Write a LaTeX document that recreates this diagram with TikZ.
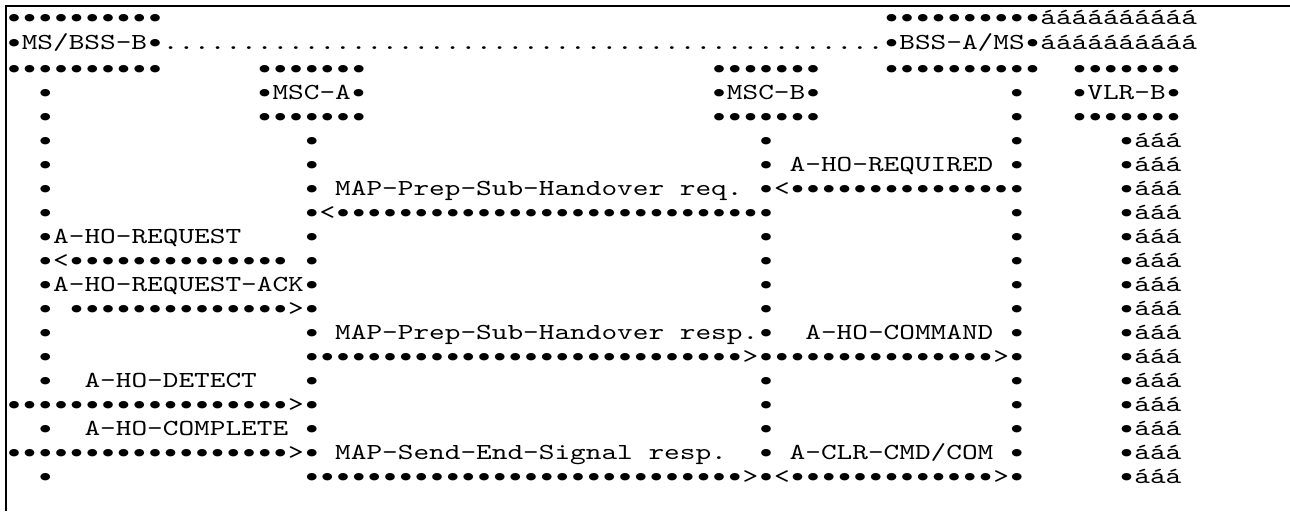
\documentclass[tikz,border=0pt]{standalone}
\usepackage{fontspec}
\newfontfamily\asciifont{lmmono10-regular.otf}[FakeStretch=1.302]

% one bullet, a bit larger, kept in one character cell
\newcommand{\bul}{\makebox[7.835pt]{\fontsize{13.5}{12}\selectfont •}}
% a run of n bullets
\newcommand{\dotrun}[1]{\foreach \k in {1,...,#1}{\bul}}

\tikzset{
  txt/.style={anchor=base west, inner sep=0pt, outer sep=0pt,
    font=\asciifont\fontsize{11.46}{12}\selectfont},
}

\begin{document}
\begin{tikzpicture}[x=0.5pt,y=-0.5pt]
\useasboundingbox (0,0) rectangle (1290,511);
\draw[line width=1.1pt] (6,511) -- (6,6) -- (1290,6);

% one unit = one character cell
\begin{scope}[x=7.835pt,y=-12pt,xshift=3.08pt,yshift=-13.85pt]

% the boxes on top
\node[txt] (msbssbtop) at (0,-0.15) {\dotrun{10}};
\node[txt] (bssamstop) at (56,-0.15) {\dotrun{10}áááááááááá};
\node[txt] (msbssb) at (0,0.9) {\bul MS/BSS-B\bul};
\node[txt] (radio) at (10,0.9) {..............................................};
\node[txt] (bssams) at (56,0.9) {\bul BSS-A/MS\bul áááááááááá};

\node[txt] (msbssbbot) at (0,2) {\dotrun{10}};
\node[txt] (mscatop) at (16,2) {\dotrun{7}};
\node[txt] (mscbtop) at (45,2) {\dotrun{7}};
\node[txt] (bssamsbot) at (56,2) {\dotrun{10}};
\node[txt] (vlrbtop) at (68,2) {\dotrun{7}};

\node[txt] (msca) at (16,3) {\bul MSC-A\bul};
\node[txt] (mscb) at (45,3) {\bul MSC-B\bul};
\node[txt] (vlrb) at (68,3) {\bul VLR-B\bul};

\node[txt] (mscabot) at (16,4) {\dotrun{7}};
\node[txt] (mscbbot) at (45,4) {\dotrun{7}};
\node[txt] (vlrbbot) at (68,4) {\dotrun{7}};

% life lines
\foreach \r in {3,...,15,17,19}
  \node[txt] (ms-\r) at (2,\r) {\bul};
\foreach \r in {3,...,19}
  \node[txt] (bss-\r) at (64,\r) {\bul};
\foreach \r in {5,...,19} {
  \node[txt] (a-\r) at (19,\r) {\bul};
  \node[txt] (b-\r) at (48,\r) {\bul};
  \node[txt] (vlr-\r) at (71,\r) {\bul ááá};
}

% messages
\node[txt] (required) at (50,6) {A-HO-REQUIRED};
\node[txt] (requiredarr) at (49,7) {<\dotrun{14}};
\node[txt] (prepreq) at (21,7) {MAP-Prep-Sub-Handover req.};
\node[txt] (prepreqarr) at (20,8) {<\dotrun{27}};

\node[txt] (request) at (3,9) {A-HO-REQUEST};
\node[txt] (requestarr) at (3,10) {<\dotrun{14}};
\node[txt] (requestack) at (3,11) {A-HO-REQUEST-ACK};
\node[txt] (requestackarr) at (4,12) {\dotrun{14}>};

\node[txt] (prepresp) at (21,13) {MAP-Prep-Sub-Handover resp.};
\node[txt] (command) at (51,13) {A-HO-COMMAND};
\node[txt] (preprsparr) at (20,14) {\dotrun{27}>};
\node[txt] (commandarr) at (49,14) {\dotrun{14}>};

\node[txt] (detect) at (5,15) {A-HO-DETECT};
\node[txt] (detectarr) at (0,16) {\dotrun{18}>};
\node[txt] (complete) at (5,17) {A-HO-COMPLETE};
\node[txt] (completearr) at (0,18) {\dotrun{18}>};

\node[txt] (endsig) at (21,18) {MAP-Send-End-Signal resp.};
\node[txt] (clr) at (50,18) {A-CLR-CMD/COM};
\node[txt] (endsigarr) at (20,19) {\dotrun{27}>};
\node[txt] (clrarr) at (49,19) {<\dotrun{13}>};

\end{scope}
\end{tikzpicture}
\end{document}
